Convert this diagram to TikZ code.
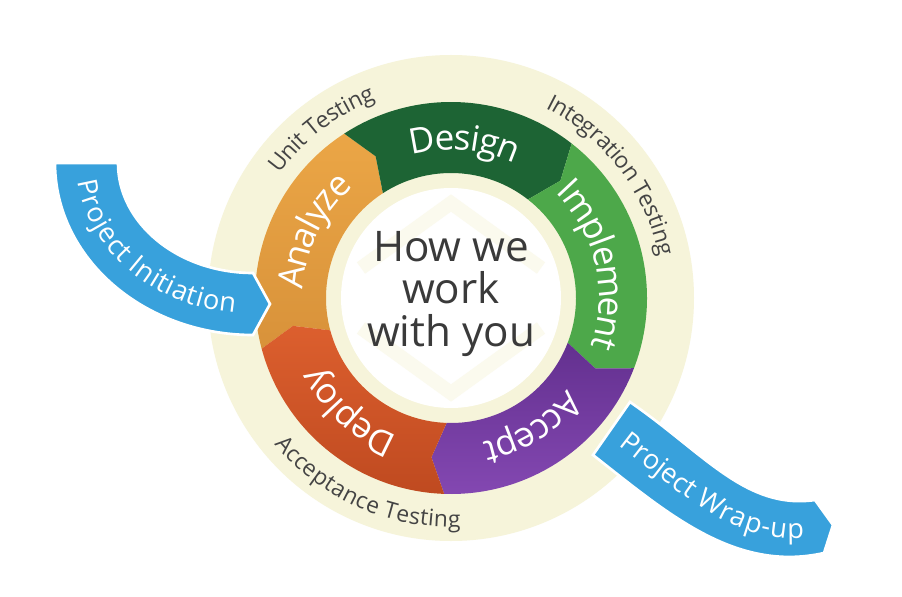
\documentclass[tikz,border=0pt]{standalone}
\usepackage{fontspec}
\setmainfont{Open Sans}
\usetikzlibrary{decorations.text}

\definecolor{ringbeige}{HTML}{F6F4DA}
\definecolor{bandblue}{HTML}{38A1DC}
\definecolor{analyzetop}{HTML}{EBA646}
\definecolor{analyzebot}{HTML}{D8923A}
\definecolor{designgreen}{HTML}{1D6434}
\definecolor{implementgreen}{HTML}{4DA84A}
\definecolor{acceptlight}{HTML}{8448B2}
\definecolor{acceptdark}{HTML}{63308F}
\definecolor{deploylight}{HTML}{DC5F2E}
\definecolor{deploydark}{HTML}{BF4A20}
\definecolor{testgray}{HTML}{444444}
\definecolor{hubgray}{HTML}{3A3A3A}

\newcommand{\seglabel}{\fontsize{20}{24}\selectfont}
\newcommand{\testlabel}{\fontsize{13}{16}\selectfont}
\newcommand{\bandlabel}{\fontsize{15.5}{18}\selectfont}

\begin{document}
\begin{tikzpicture}[
  band/.style={fill=bandblue, draw=white, line width=1.5pt},
  wmark/.style={draw=ringbeige!45, line width=8pt},
  segtext/.style={decorate, decoration={text along path, text align=center,
    raise=-7pt, text color=white, text={|\seglabel|#1}}},
  testtext/.style={decorate, decoration={text along path, text align=center,
    raise=-4.6pt, text color=testgray, text={|\testlabel|#1}}},
  bandtext/.style={decorate, decoration={text along path, text align=center,
    raise=-5.5pt, text color=white, text={|\bandlabel|#1}}}
]
\path[use as bounding box, fill=white] (-9.02,-5.96) rectangle (9.02,5.96);

% Outer disc
\fill[ringbeige] (0,0) circle (4.86);

% Phase ring (clockwise, each piece points into the next)
\foreach \a/\b/\ca/\cb in {195/123/analyzetop/analyzebot,
                           123/52/designgreen/designgreen,
                           52/-21/implementgreen/implementgreen,
                           -21/-92/acceptdark/acceptlight,
                           268/195/deploylight/deploydark}
  \path[top color=\ca, bottom color=\cb] (\a:3.92)
    arc[start angle=\a, end angle=\b, radius=3.92] -- ({\b-5}:3.21)
    -- (\b:2.5) arc[start angle=\b, end angle=\a, radius=2.5]
    -- ({\a-5}:3.21) -- cycle;

% Centre
\fill[white] (0,0) circle (2.2);
\draw[wmark] (-1.8,0.6) -- (0,1.9) -- (1.8,0.6);
\draw[wmark] (-1.8,-0.6) -- (0,-1.9) -- (1.8,-0.6);
\node[align=center, text=hubgray, font=\fontsize{24}{24}\selectfont] (hub)
  at (0,0.08) {How we\\work\\with you};

% Phase labels
\path[segtext=Analyze] (199:3.21) arc[start angle=199, end angle=109, radius=3.21];
\path[segtext=Design] (130:3.21) arc[start angle=130, end angle=40, radius=3.21];
\path[segtext=Implement] (63:3.21) arc[start angle=63, end angle=-37, radius=3.21];
\path[segtext=Accept] (-13:3.21) arc[start angle=-13, end angle=-103, radius=3.21];
\path[segtext=Deploy] (273:3.21) arc[start angle=273, end angle=183, radius=3.21];

% Testing labels
\path[testtext={Unit Testing}] (172:4.4) arc[start angle=172, end angle=83, radius=4.4];
\path[testtext={Integration Testing}] (85:4.4) arc[start angle=85, end angle=-10, radius=4.4];
\path[testtext={Acceptance Testing}] (196:4.42) arc[start angle=196, end angle=296, radius=4.42];

% Project Initiation
\path[band] (-7.92,2.70) arc[start angle=180, end angle=270, x radius=3.96, y radius=3.44]
  -- (-3.62,-0.12) -- (-3.96,0.50)
  arc[start angle=270, end angle=180, x radius=2.70, y radius=2.20] -- cycle;
\path[bandtext={Project Initiation}] (-7.29,2.70)
  arc[start angle=180, end angle=270, x radius=3.33, y radius=2.82];

% Project Wrap-up
\path[band] (3.58,-2.08) .. controls (5.06,-3.10) and (5.90,-4.24) .. (7.28,-4.04)
  -- (7.64,-4.54) -- (7.46,-5.10)
  .. controls (5.68,-5.50) and (4.32,-4.30) .. (2.84,-3.14) -- cycle;
\path[bandtext={Project Wrap-up}] (3.21,-2.61)
  .. controls (4.69,-3.70) and (5.79,-4.87) .. (7.37,-4.57);
\end{tikzpicture}
\end{document}
